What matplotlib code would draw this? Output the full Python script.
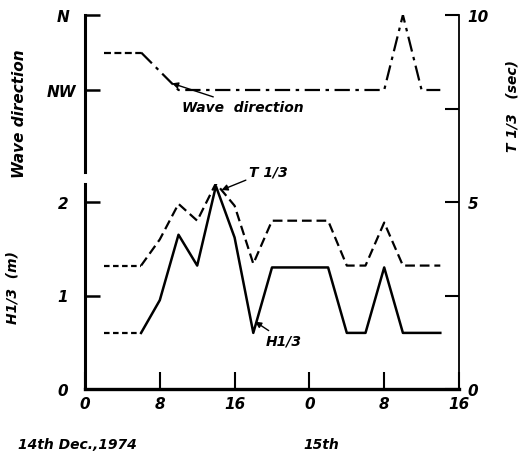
import matplotlib
matplotlib.use("Agg")
import matplotlib.pyplot as plt

plt.rcParams["lines.scale_dashes"] = False

# hours from 00h 14 Dec 1974 (24 = 00h on the 15th)
t_dir = [2, 6, 10, 32, 34, 36, 38]
wave_dir = [337.5, 337.5, 315, 315, 360, 315, 315]   # degrees: NNW, NW, N

t_hr = [2, 6, 8, 10, 12, 14, 16, 18, 20, 26, 28, 30, 32, 34, 38]
h13 = [0.6, 0.6, 0.95, 1.65, 1.32, 2.17, 1.62, 0.6, 1.3, 1.3, 0.6, 0.6, 1.3, 0.6, 0.6]
t13 = [3.3, 3.3, 4.0, 4.95, 4.5, 5.5, 4.9, 3.35, 4.5, 4.5, 3.3, 3.3, 4.45, 3.3, 3.3]

xticks = [0, 8, 16, 24, 32, 40]
xticklabels = ["0", "8", "16", "0", "8", "16"]

W, H = 520, 456
FONT = dict(fontstyle="italic", fontweight="bold", family="DejaVu Sans")
ARROW = dict(arrowstyle="-|>", color="black", lw=1.0, mutation_scale=9,
             shrinkA=0, shrinkB=0)

def box(l, t, r, b):
    return [l / W, 1 - b / H, (r - l) / W, (b - t) / H]

fig = plt.figure(figsize=(W / 100, H / 100), dpi=100)

# full-height period axis (right side only)
ax_t = fig.add_axes(box(85, 16, 459, 390))
ax_t.patch.set_visible(False)
ax_t.set_xlim(0, 40); ax_t.set_ylim(0, 10)
for s in ("top", "left", "bottom"):
    ax_t.spines[s].set_visible(False)
ax_t.spines["right"].set_linewidth(1.3)
ax_t.yaxis.tick_right()
ax_t.set_yticks([0, 2.5, 5, 7.5, 10])
ax_t.set_yticklabels(["0", "", "5", "", "10"], **FONT, fontsize=11)
ax_t.tick_params(axis="y", direction="in", length=10, width=1.5, pad=6)
ax_t.set_xticks([])
ax_t.yaxis.set_label_position("right")
ax_t.set_ylabel("T 1/3   (sec)", **FONT, fontsize=10, rotation=90)
ax_t.yaxis.set_label_coords(1.125, 0.76)

# wave direction panel
ax_d = fig.add_axes(box(85, 16, 459, 173))
ax_d.patch.set_visible(False)
ax_d.set_xlim(0, 40); ax_d.set_ylim(265.8, 360)
for s in ("top", "right", "bottom"):
    ax_d.spines[s].set_visible(False)
ax_d.spines["left"].set_linewidth(2.2)
ax_d.set_xticks([])
ax_d.set_yticks([315, 360])
ax_d.set_yticklabels(["NW", "N"], **FONT, fontsize=11)
ax_d.tick_params(axis="y", direction="in", length=11, width=1.8, pad=6)
ax_d.get_yticklabels()[1].set_x(-0.02)
ax_d.plot(t_dir[:2], wave_dir[:2], color="black", lw=1.6,
          linestyle=(0, (5, 2.5)))
ax_d.plot(t_dir[1:], wave_dir[1:], color="black", lw=1.6,
          linestyle=(0, (11, 4, 2.5, 4)))
ax_d.annotate("Wave  direction", xy=(9.3, 319), xytext=(10.4, 305),
              **FONT, fontsize=10, va="center", arrowprops=ARROW)
ax_d.set_ylabel("Wave direction", **FONT, fontsize=11)
ax_d.yaxis.set_label_coords(-0.155, 0.38)

# wave height panel
ax_h = fig.add_axes(box(85, 185, 459, 390))
ax_h.patch.set_visible(False)
ax_h.set_xlim(0, 40); ax_h.set_ylim(0, 205 / 93.5)
for s in ("top", "right"):
    ax_h.spines[s].set_visible(False)
ax_h.spines["left"].set_linewidth(2.2)
ax_h.spines["bottom"].set_linewidth(2.4)
ax_h.set_yticks([0, 1, 2])
ax_h.set_yticklabels(["0", "1", "2"], **FONT, fontsize=11)
ax_h.tick_params(axis="y", direction="in", length=11, width=1.8, pad=12)
ax_h.set_xticks(xticks)
ax_h.set_xticklabels(xticklabels, **FONT, fontsize=11)
ax_h.tick_params(axis="x", direction="in", length=12, width=1.5, pad=5)

# period drawn on the height axes (2 m <-> 5 s)
t_scaled = [v / 2.5 for v in t13]
ax_h.plot(t_hr[:2], t_scaled[:2], color="black", lw=1.6, linestyle=(0, (4, 2.5)))
ax_h.plot(t_hr[1:], t_scaled[1:], color="black", lw=1.6, linestyle=(0, (7, 3.5)))
ax_h.plot(t_hr[:2], h13[:2], color="black", lw=1.6, linestyle=(0, (4, 2.5)))
ax_h.plot(t_hr[1:], h13[1:], color="black", lw=1.8)

ax_h.annotate("T 1/3", xy=(14.6, 5.32 / 2.5), xytext=(17.5, 2.33),
              **FONT, fontsize=10, va="center", arrowprops=ARROW)
ax_h.annotate("H1/3", xy=(18.2, 0.72), xytext=(19.3, 0.52),
              **FONT, fontsize=10, va="center", arrowprops=ARROW)
ax_h.set_ylabel("H1/3  (m)", **FONT, fontsize=10)
ax_h.yaxis.set_label_coords(-0.175, 0.5)

fig.text(18 / W, 1 - 445 / H, "14th Dec.,1974", **FONT, fontsize=10, va="center")
fig.text(303 / W, 1 - 445 / H, "15th", **FONT, fontsize=10, va="center")

fig.savefig("out.png", dpi=100)
